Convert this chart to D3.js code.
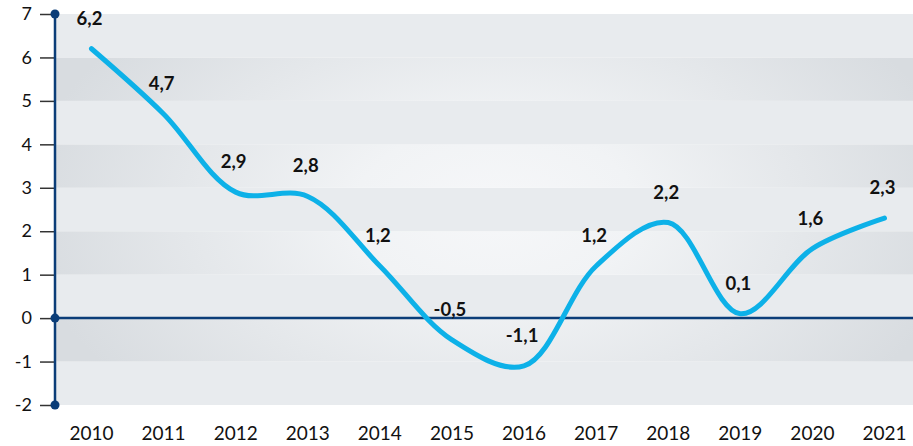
<!DOCTYPE html>
<html>
<head>
<meta charset="utf-8">
<script src="https://cdn.jsdelivr.net/npm/d3@7"></script>
<style>
  body { margin: 0; background: #fff; }
  svg { display: block; font-family: Lato, "Open Sans", sans-serif; }
</style>
</head>
<body>
<svg id="chart" width="913" height="446"></svg>
<script>
var years = [2010, 2011, 2012, 2013, 2014, 2015, 2016, 2017, 2018, 2019, 2020, 2021];
var values = [6.2, 4.7, 2.9, 2.8, 1.2, -0.5, -1.1, 1.2, 2.2, 0.1, 1.6, 2.3];
var yTicks = [-2, -1, 0, 1, 2, 3, 4, 5, 6, 7];
var axisDots = [7, 0, -2];

var svg = d3.select("svg#chart");
var navy = "#0b3d78";

var left = 55, right = 913;
var y = d3.scaleLinear().domain([-2, 7]).range([405, 14]);
var x = d3.scaleLinear().domain([2010, 2021]).range([91.5, 884.5]);

// glow for the darker bands
var defs = svg.append("defs");
var grad = defs.append("radialGradient")
  .attr("id", "glow")
  .attr("gradientUnits", "userSpaceOnUse")
  .attr("cx", 495).attr("cy", 210).attr("r", 470)
  .attr("gradientTransform", "translate(495,210) scale(1,0.6) translate(-495,-210)");
grad.append("stop").attr("offset", 0).attr("stop-color", "#f6f7f9");
grad.append("stop").attr("offset", 0.3).attr("stop-color", "#f1f3f5");
grad.append("stop").attr("offset", 1).attr("stop-color", "#d8dce0");

// bands
var bands = d3.range(-2, 7);
svg.append("g")
  .selectAll("rect")
  .data(bands)
  .enter()
  .append("rect")
  .attr("x", left)
  .attr("width", right - left)
  .attr("y", function(d) { return y(d + 1); })
  .attr("height", function(d) { return y(d) - y(d + 1); })
  .attr("fill", function(d) {
    // 6-5, 4-3, 2-1, 0..-1 are the darker ones
    return (d === 5 || d === 3 || d === 1 || d === -1) ? "url(#glow)" : "#e8ebee";
  });

// y axis ticks + labels
var yAxis = svg.append("g")
  .attr("transform", "translate(" + (left - 1) + ",0)")
  .call(d3.axisLeft(y).tickValues(yTicks).tickSize(14).tickPadding(8).tickFormat(function(d) { return String(d); }));
yAxis.select(".domain").remove();
yAxis.selectAll(".tick line").attr("stroke", "#333").attr("stroke-width", 1.5);
yAxis.selectAll(".tick text")
  .attr("fill", "#111")
  .style("font-size", "18px")
  .style("font-family", "Lato, sans-serif");

// x labels
svg.append("g")
  .selectAll("text")
  .data(years)
  .enter()
  .append("text")
  .attr("x", function(d) { return x(d); })
  .attr("y", 440)
  .attr("text-anchor", "middle")
  .attr("fill", "#111")
  .style("font-size", "19px")
  .text(function(d) { return d; });

// zero line
svg.append("line")
  .attr("x1", left).attr("x2", right)
  .attr("y1", y(0)).attr("y2", y(0))
  .attr("stroke", navy).attr("stroke-width", 2.5);

// vertical axis
svg.append("line")
  .attr("x1", left).attr("x2", left)
  .attr("y1", y(7)).attr("y2", y(-2))
  .attr("stroke", navy).attr("stroke-width", 2.5);

svg.append("g")
  .selectAll("circle")
  .data(axisDots)
  .enter()
  .append("circle")
  .attr("cx", left)
  .attr("cy", function(d) { return y(d); })
  .attr("r", 4.5)
  .attr("fill", navy);

// the line
var line = d3.line()
  .x(function(d, i) { return x(years[i]); })
  .y(function(d) { return y(d); })
  .curve(d3.curveCatmullRom.alpha(0.5));

svg.append("path")
  .datum(values)
  .attr("d", line)
  .attr("fill", "none")
  .attr("stroke", "#0db1e8")
  .attr("stroke-width", 5)
  .attr("stroke-linecap", "round")
  .attr("stroke-linejoin", "round");

// value labels
svg.append("g")
  .selectAll("text")
  .data(values)
  .enter()
  .append("text")
  .attr("x", function(d, i) { return x(years[i]) - 2; })
  .attr("y", function(d) { return y(d) - 24; })
  .attr("text-anchor", "middle")
  .attr("fill", "#111")
  .attr("font-weight", "bold")
  .style("font-size", "18.5px")
  .text(function(d) { return String(d).replace(".", ","); });
</script>
</body>
</html>
